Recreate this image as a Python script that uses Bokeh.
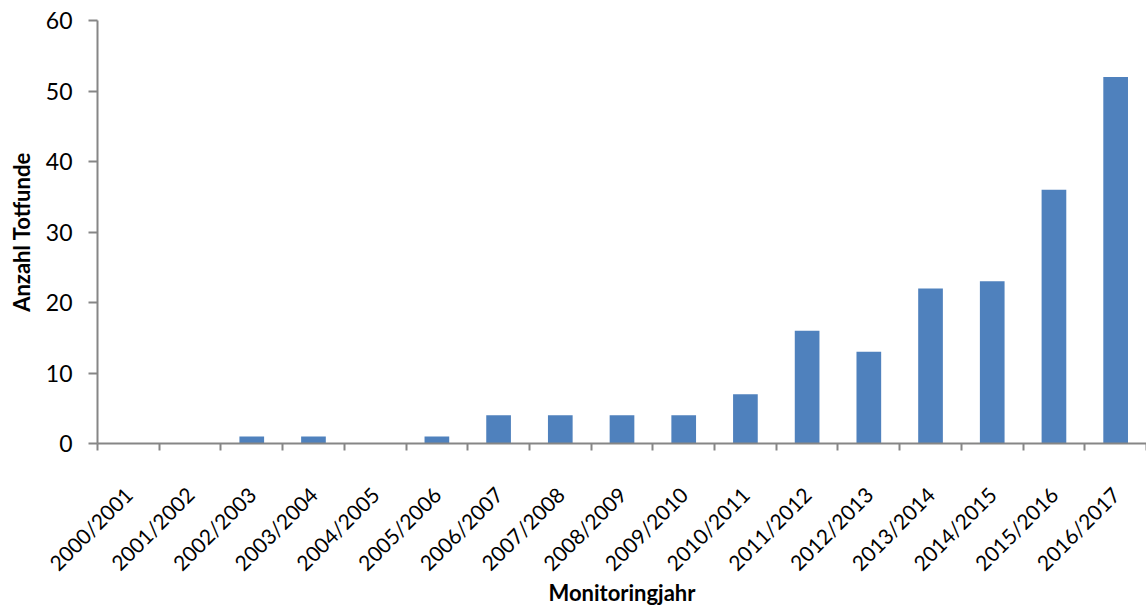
import math
from bokeh.plotting import figure
from bokeh.models import Range1d, LinearAxis, FixedTicker
from bokeh.embed import file_html
from bokeh.resources import INLINE

seasons = ["2000/2001", "2001/2002", "2002/2003", "2003/2004", "2004/2005",
           "2005/2006", "2006/2007", "2007/2008", "2008/2009", "2009/2010",
           "2010/2011", "2011/2012", "2012/2013", "2013/2014", "2014/2015",
           "2015/2016", "2016/2017"]
counts = [0, 0, 1, 1, 0, 1, 4, 4, 4, 4, 7, 16, 13, 22, 23, 36, 52]
y_ticks = [0, 10, 20, 30, 40, 50, 60]
x_title = "Monitoringjahr"
y_title = "Anzahl Totfunde"

FONT = "Lato"
AXIS = "#868686"

n = len(seasons)
centers = [i + 0.5 for i in range(n)]
bounds = list(range(n + 1))

p = figure(width=1146, height=608,
           x_range=Range1d(0, n),
           y_range=Range1d(0, 60),
           output_backend="svg", toolbar_location=None,
           x_axis_location=None,
           min_border_left=97, min_border_right=0,
           min_border_top=20, min_border_bottom=162)

p.vbar(x=centers, top=counts, width=0.4, color="#4F81BD", line_color=None)

xa = LinearAxis(ticker=FixedTicker(ticks=centers, minor_ticks=bounds),
                major_label_overrides={c: s for c, s in zip(centers, seasons)},
                major_label_orientation=math.pi / 4,
                axis_line_color=AXIS, axis_line_width=2,
                major_tick_line_color=None, major_tick_out=0, major_tick_in=0,
                minor_tick_line_color=AXIS, minor_tick_line_width=2,
                minor_tick_out=7, minor_tick_in=0,
                major_label_text_font=FONT,
                major_label_text_font_size="21px",
                major_label_text_color="#000000",
                major_label_standoff=40,
                axis_label=x_title,
                axis_label_text_font=FONT,
                axis_label_text_font_size="22px",
                axis_label_text_font_style="bold",
                axis_label_text_color="#000000",
                axis_label_standoff=-8)
p.add_layout(xa, "below")

ya = p.yaxis[0]
ya.ticker = FixedTicker(ticks=y_ticks)
ya.axis_line_color = AXIS
ya.axis_line_width = 2
ya.major_tick_line_color = AXIS
ya.major_tick_line_width = 2
ya.major_tick_out = 9
ya.major_tick_in = 0
ya.minor_tick_line_color = None
ya.major_label_text_font = FONT
ya.major_label_text_font_size = "23px"
ya.major_label_text_color = "#000000"
ya.major_label_standoff = 16
ya.axis_label = y_title
ya.axis_label_text_font = FONT
ya.axis_label_text_font_size = "22px"
ya.axis_label_text_font_style = "bold"
ya.axis_label_text_color = "#000000"
ya.axis_label_standoff = 8

p.grid.visible = False
p.outline_line_color = None
p.background_fill_color = "white"
p.border_fill_color = "white"

open("out.html", "w").write(file_html(p, INLINE))
